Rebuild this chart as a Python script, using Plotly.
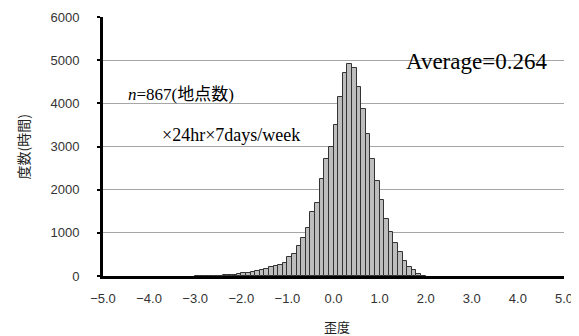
import plotly.graph_objects as go

# Histogram of skewness (bin width 0.1)
bin_centers = [-2.95, -2.85, -2.75, -2.65, -2.55, -2.45, -2.35, -2.25, -2.15, -2.05,
               -1.95, -1.85, -1.75, -1.65, -1.55, -1.45, -1.35, -1.25, -1.15, -1.05,
               -0.95, -0.85, -0.75, -0.65, -0.55, -0.45, -0.35, -0.25, -0.15, -0.05,
               0.05, 0.15, 0.25, 0.35, 0.45, 0.55, 0.65, 0.75, 0.85, 0.95,
               1.05, 1.15, 1.25, 1.35, 1.45, 1.55, 1.65, 1.75, 1.85, 1.95]
counts = [1, 1, 2, 3, 5, 8, 14, 22, 32, 45,
          60, 76, 95, 115, 135, 165, 200, 225, 250, 305,
          435, 510, 685, 890, 1115, 1480, 1690, 2250, 2700, 3000,
          3490, 4140, 4710, 4920, 4830, 4390, 3860, 3280, 2700, 2200,
          1750, 1310, 1010, 760, 545, 340, 220, 135, 40, 8]

x_ticks = [-5.0, -4.0, -3.0, -2.0, -1.0, 0.0, 1.0, 2.0, 3.0, 4.0, 5.0]
y_ticks = [0, 1000, 2000, 3000, 4000, 5000, 6000]

x_title = "歪度"
y_title = "度数(時間)"
note_n = "<i>n</i>=867(地点数)"
note_week = "×24hr×7days/week"
note_avg = "Average=0.264"

fig = go.Figure()
fig.add_trace(go.Bar(
    x=bin_centers, y=counts, width=0.1,
    marker=dict(color="#bdbdbd", line=dict(color="#333333", width=1)),
))

serif = "Liberation Serif, Times New Roman, Noto Sans CJK JP, serif"
fig.add_annotation(x=-4.50, y=4210, xref="x", yref="y", text=note_n, showarrow=False,
                   xanchor="left", yanchor="middle", font=dict(family=serif, size=17, color="#000"))
fig.add_annotation(x=-3.76, y=3260, xref="x", yref="y", text=note_week, showarrow=False,
                   xanchor="left", yanchor="middle", font=dict(family=serif, size=18, color="#000"))
fig.add_annotation(x=1.52, y=4960, xref="x", yref="y", text=note_avg, showarrow=False,
                   xanchor="left", yanchor="middle", font=dict(family=serif, size=23, color="#000"))

# axis titles placed as annotations for exact positioning
fig.add_annotation(x=0, y=0.5, xref="paper", yref="paper", text=y_title, showarrow=False,
                   xanchor="center", yanchor="middle", textangle=-90, xshift=-81, yshift=-1,
                   font=dict(family="Noto Sans CJK JP", size=14, color="#222"))
fig.add_annotation(x=0.5, y=0, xref="paper", yref="paper", text=x_title, showarrow=False,
                   xanchor="center", yanchor="middle", xshift=3, yshift=-50,
                   font=dict(family="Noto Sans CJK JP", size=13, color="#222"))

tickfont = dict(family="Liberation Sans, Arial, sans-serif", size=13, color="#333")
fig.update_layout(
    width=571, height=328,
    margin=dict(l=95, r=15, t=9, b=60, autoexpand=False),
    paper_bgcolor="white", plot_bgcolor="white",
    showlegend=False, bargap=0,
    xaxis=dict(
        range=[-5.0, 5.0], tickvals=x_ticks, tickformat=".1f",
        showgrid=False, zeroline=False, automargin=False,
        showline=True, linecolor="#000", linewidth=3,
        ticks="", tickfont=tickfont, ticklabelstandoff=8,
    ),
    yaxis=dict(
        range=[0, 6000], tickvals=y_ticks,
        showgrid=True, gridcolor="#a6a6a6", gridwidth=1, zeroline=False, automargin=False,
        showline=True, linecolor="#000", linewidth=3,
        ticks="outside", ticklen=3, tickwidth=2, tickcolor="#000",
        tickfont=tickfont, ticklabelstandoff=15,
    ),
)

fig.write_html("out.html")
